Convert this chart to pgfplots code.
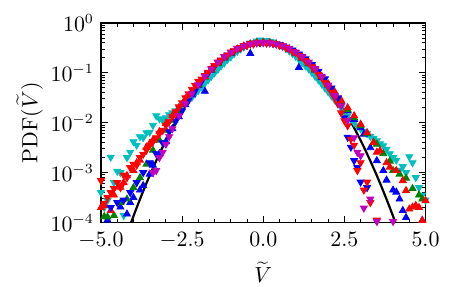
\documentclass[border=0pt]{standalone}
\usepackage{pgfplots}
\pgfplotsset{compat=1.18}
\definecolor{mb}{rgb}{0,0,1}
\definecolor{mg}{rgb}{0,0.5,0}
\definecolor{mr}{rgb}{1,0,0}
\definecolor{mc}{rgb}{0,0.75,0.75}
\definecolor{mm}{rgb}{0.75,0,0.75}
\begin{document}
\begin{tikzpicture}
\begin{axis}[name=ax,
  scale only axis, width=162.25pt, height=99.75pt,
  xmin=-5, xmax=5, ymin=1e-4, ymax=1, ymode=log,
  clip=true,
  xtick={-5,-2.5,0,2.5,5},
  xticklabels={$-5.0$,$-2.5$,$0.0$,$2.5$,$5.0$},
  minor x tick num=4,
  tick align=inside, tick pos=both,
  xticklabel pos=lower, yticklabel pos=left,
  major tick length=3.5pt, minor tick length=2pt,
  every major tick/.style={line width=0.6pt, black},
  every minor tick/.style={line width=0.5pt, black},
  axis line style={line width=0.8pt},
  ytick={1e-4,1e-3,1e-2,1e-1,1},
  xlabel={$\widetilde{V}$},
  ylabel={$\mathrm{PDF}(\widetilde{V})$},
  xlabel style={at={(axis description cs:0.5,-0.248)}, anchor=center, inner sep=0pt},
  ylabel style={at={(axis description cs:-0.22,0.5)}, anchor=center},
  xticklabel style={yshift=-1.2pt},
  tick label style={font=\fontsize{10.5}{12}\selectfont},
  label style={font=\fontsize{10.5}{12}\selectfont},
]
% cyan, down triangles
\addplot[only marks, mark=triangle*, mark size=2pt, color=mc, mark options={rotate=180, fill=mc, draw=mc}] coordinates {
(-5.0,3.98e-4)(-4.9,2.00e-4)(-4.8,2.75e-4)(-4.7,2.04e-3)(-4.6,6.31e-4)(-4.5,1.07e-3)(-4.4,1.00e-3)(-4.3,1.38e-4)(-4.2,2.00e-3)(-4.1,2.57e-3)
(-4.0,4.17e-3)(-3.9,3.55e-3)(-3.8,5.25e-3)(-3.7,5.01e-3)(-3.6,6.31e-3)(-3.5,6.46e-3)(-3.4,8.91e-3)(-3.3,1.38e-2)(-3.2,1.20e-2)(-3.1,1.12e-2)
(-3.0,1.26e-2)(-2.9,1.45e-2)(-2.8,1.58e-2)(-2.7,1.74e-2)(-2.6,2.00e-2)(-2.5,2.19e-2)(-2.4,2.51e-2)(-2.3,2.82e-2)(-2.2,3.24e-2)(-2.1,3.80e-2)
(-2.0,0.0447)(-1.9,0.0525)(-1.8,0.0617)(-1.7,0.0724)(-1.6,0.0851)(-1.5,0.100)(-1.4,0.117)(-1.3,0.138)(-1.2,0.158)(-1.1,0.186)
(-1.0,0.209)(-0.9,0.240)(-0.8,0.269)(-0.7,0.302)(-0.6,0.331)(-0.5,0.355)(-0.4,0.398)(-0.3,0.407)(-0.2,0.437)(-0.1,0.457)
(0.0,0.437)(0.1,0.447)(0.2,0.427)(0.3,0.417)(0.4,0.389)(0.5,0.363)(0.6,0.339)(0.7,0.309)(0.8,0.275)(0.9,0.245)
(1.0,0.214)(1.1,0.186)(1.2,0.162)(1.3,0.138)(1.4,0.120)(1.5,0.102)(1.6,0.0851)(1.7,0.0724)(1.8,0.0603)(1.9,0.0501)
(2.0,0.0417)(2.1,0.0347)(2.2,0.0288)(2.3,0.0240)(2.4,0.0200)(2.5,0.0166)(2.6,0.0138)(2.7,0.0117)(2.8,0.0100)(2.9,8.71e-3)
(3.0,7.59e-3)(3.1,6.76e-3)(3.2,6.03e-3)(3.3,5.37e-3)(3.4,4.90e-3)(3.5,4.37e-3)(3.6,3.80e-3)(3.7,3.47e-3)(3.8,2.95e-3)(3.9,2.40e-3)
(4.0,2.00e-3)(4.1,1.78e-3)(4.2,1.12e-3)(4.3,1.32e-3)(4.4,1.00e-3)(4.5,2.09e-3)(4.6,1.58e-3)(4.7,7.94e-4)(4.8,5.01e-4)(4.9,3.55e-4)(5.0,2.82e-4)
};
% blue, up triangles
\addplot[only marks, mark=triangle*, mark size=2pt, color=mb, mark options={fill=mb, draw=mb}] coordinates {
(-4.8,1.12e-4)(-4.4,2.04e-4)(-4.2,1.48e-4)(-4.1,2.51e-4)(-4.0,3.16e-4)(-3.8,4.47e-4)(-3.7,5.50e-4)(-3.5,9.33e-4)(-3.4,1.41e-3)(-3.2,2.40e-3)
(-3.0,4.17e-3)(-2.8,7.59e-3)(-2.6,1.32e-2)(-2.4,2.29e-2)(-2.2,3.63e-2)(-2.0,5.62e-2)(-1.8,0.0427)(-1.6,0.113)(-1.4,0.152)(-1.2,0.198)
(-1.0,0.246)(-0.8,0.293)(-0.6,0.337)(-0.4,0.245)(-0.2,0.392)(0.0,0.400)(0.2,0.392)(0.4,0.368)(0.6,0.336)(0.8,0.292)
(1.0,0.245)(1.1,0.129)(1.2,0.197)(1.4,0.152)(1.6,0.114)(1.8,0.081)(2.0,0.057)(2.2,0.0398)(2.4,0.0263)(2.6,0.0174)
(2.8,0.0117)(3.0,7.94e-3)(3.1,5.89e-3)(3.3,3.16e-3)(3.5,1.74e-3)(3.7,1.10e-3)(3.8,7.08e-4)(4.0,4.47e-4)(4.1,4.07e-4)(4.2,2.95e-4)
(4.3,1.74e-4)(4.4,1.26e-4)(4.9,1.10e-4)
};
% green, up triangles
\addplot[only marks, mark=triangle*, mark size=2pt, color=mg, mark options={fill=mg, draw=mg}] coordinates {
(-4.9,1.32e-4)(-4.8,1.29e-4)(-4.6,1.38e-4)(-4.4,2.51e-4)(-4.2,2.95e-4)(-4.0,5.01e-4)(-3.8,7.94e-4)(-3.6,1.48e-3)(-3.4,2.82e-3)(-3.2,4.47e-3)
(-3.0,7.08e-3)(-2.8,1.12e-2)(-2.6,1.74e-2)(-2.4,2.63e-2)(-2.2,3.98e-2)(-2.0,5.75e-2)(-1.8,0.082)(-1.6,0.115)(-1.4,0.155)(-1.2,0.200)
(-1.0,0.248)(-0.8,0.295)(-0.6,0.338)(-0.4,0.372)(-0.2,0.395)(0.0,0.402)(0.2,0.393)(0.4,0.370)(0.6,0.336)(0.8,0.294)
(1.0,0.246)(1.2,0.199)(1.4,0.154)(1.6,0.115)(1.8,0.083)(2.0,0.0589)(2.2,0.0398)(2.4,0.0269)(2.6,0.0182)(2.8,0.0126)
(3.0,8.71e-3)(3.2,6.03e-3)(3.4,4.07e-3)(3.5,3.72e-3)(3.7,2.40e-3)(3.9,1.70e-3)(4.0,1.10e-3)(4.2,9.33e-4)(4.4,7.76e-4)(4.6,4.79e-4)
(4.8,3.55e-4)(4.9,2.95e-4)
};
% red, up triangles
\addplot[only marks, mark=triangle*, mark size=2pt, color=mr, mark options={fill=mr, draw=mr}] coordinates {
(-5.0,2.00e-4)(-4.9,2.19e-4)(-4.7,1.74e-4)(-4.6,3.55e-4)(-4.4,5.13e-4)(-4.3,6.31e-4)(-4.2,8.71e-4)(-4.0,1.10e-3)(-3.9,1.58e-3)(-3.8,1.78e-3)
(-3.6,3.24e-3)(-3.5,3.80e-3)(-3.4,4.47e-3)(-3.2,6.61e-3)(-3.0,9.55e-3)(-2.8,1.38e-2)(-2.6,2.00e-2)(-2.4,3.02e-2)(-2.2,4.17e-2)(-2.0,6.03e-2)
(-1.8,0.085)(-1.6,0.119)(-1.4,0.160)(-1.2,0.205)(-1.0,0.252)(-0.8,0.300)(-0.6,0.345)(-0.4,0.380)(-0.2,0.400)(0.0,0.405)
(0.2,0.398)(0.4,0.375)(0.6,0.340)(0.8,0.298)(1.0,0.250)(1.2,0.203)(1.4,0.158)(1.6,0.118)(1.8,0.084)(2.0,0.0600)
(2.2,0.0417)(2.4,0.0282)(2.6,0.0200)(2.8,0.0138)(3.0,9.33e-3)(3.2,6.31e-3)(3.4,3.98e-3)(3.5,2.57e-3)(3.6,2.75e-3)(3.8,1.58e-3)
(3.9,1.29e-3)(4.1,1.10e-3)(4.3,6.92e-4)(4.4,4.37e-4)(4.5,1.86e-4)(4.6,2.04e-4)(4.7,2.19e-4)(4.8,2.00e-4)(4.9,1.10e-4)(5.0,2.75e-4)
};
% blue, down triangles
\addplot[only marks, mark=triangle*, mark size=2pt, color=mb, mark options={rotate=180, fill=mb, draw=mb}] coordinates {
(-4.7,2.00e-4)(-4.5,2.51e-4)(-4.3,2.82e-4)(-4.1,3.98e-4)(-3.9,6.31e-4)(-3.7,1.00e-3)(-3.5,1.58e-3)(-3.3,2.40e-3)(-3.1,3.98e-3)(-2.9,6.61e-3)
(-2.7,1.07e-2)(-2.5,1.74e-2)(-2.3,2.82e-2)(-2.1,4.37e-2)(-1.9,0.0680)(-1.7,0.0990)(-1.5,0.137)(-1.3,0.180)(-1.1,0.227)(-0.9,0.275)
(-0.7,0.320)(-0.5,0.358)(-0.3,0.386)(-0.1,0.400)(0.1,0.402)(0.3,0.390)(0.5,0.365)(0.7,0.330)(0.9,0.288)(1.1,0.240)
(1.3,0.192)(1.5,0.147)(1.7,0.108)(1.9,0.0760)(2.1,0.0500)(2.3,0.0316)(2.5,0.0126)(2.6,5.13e-3)(2.7,3.24e-3)(2.8,1.74e-3)
(2.9,1.26e-3)(3.0,6.46e-4)(3.2,5.01e-4)
};
% red, down triangles
\addplot[only marks, mark=triangle*, mark size=2pt, color=mr, mark options={rotate=180, fill=mr, draw=mr}] coordinates {
(-5.0,6.92e-4)(-4.9,2.40e-4)(-4.8,3.16e-4)(-4.7,3.98e-4)(-4.6,4.79e-4)(-4.5,6.31e-4)(-4.4,5.01e-4)(-4.3,8.91e-4)(-4.2,7.94e-4)(-4.1,1.26e-3)
(-4.0,1.48e-3)(-3.9,1.41e-3)(-3.8,2.00e-3)(-3.7,2.34e-3)(-3.6,2.82e-3)(-3.5,3.55e-3)(-3.4,4.17e-3)(-3.3,5.01e-3)(-3.2,6.03e-3)(-3.1,7.08e-3)
(-3.0,8.91e-3)(-2.9,1.07e-2)(-2.8,1.32e-2)(-2.7,1.66e-2)(-2.6,2.09e-2)(-2.5,2.51e-2)(-2.4,3.16e-2)(-2.3,3.80e-2)(-2.2,4.68e-2)(-2.1,5.62e-2)
(-2.0,6.76e-2)(-1.9,0.0754)(-1.8,0.0885)(-1.7,0.103)(-1.6,0.124)(-1.5,0.140)(-1.4,0.165)(-1.3,0.181)(-1.2,0.213)(-1.1,0.229)
(-1.0,0.261)(-0.9,0.279)(-0.8,0.310)(-0.7,0.321)(-0.6,0.353)(-0.5,0.359)(-0.4,0.386)(-0.3,0.381)(-0.2,0.407)(-0.1,0.405)
(0.0,0.411)(0.1,0.397)(0.2,0.403)(0.3,0.389)(0.4,0.383)(0.5,0.359)(0.6,0.350)(0.7,0.321)(0.8,0.305)(0.9,0.271)
(1.0,0.257)(1.1,0.225)(1.2,0.206)(1.3,0.176)(1.4,0.158)(1.5,0.133)(1.6,0.115)(1.7,0.094)(1.8,0.0806)(1.9,0.0643)
(2.0,0.0520)(2.1,0.0410)(2.2,0.0316)(2.3,0.0240)(2.4,0.0158)(2.5,0.0110)(2.6,8.71e-3)(2.7,4.68e-3)(2.8,3.55e-3)(2.9,1.10e-3)
(3.0,1.58e-3)(3.1,4.47e-4)(3.2,6.46e-4)(3.3,2.51e-4)(3.5,1.12e-4)
};
% magenta, down triangles
\addplot[only marks, mark=triangle*, mark size=2pt, color=mm, mark options={rotate=180, fill=mm, draw=mm}] coordinates {
(-3.4,1.00e-3)(-3.3,1.10e-3)(-3.2,2.00e-3)(-3.1,2.57e-3)(-3.0,3.72e-3)(-2.9,5.25e-3)(-2.8,7.59e-3)(-2.6,1.38e-2)(-2.4,2.40e-2)(-2.2,3.80e-2)
(-2.0,5.75e-2)(-1.8,0.0850)(-1.6,0.120)(-1.4,0.163)(-1.2,0.210)(-1.0,0.260)(-0.8,0.305)(-0.6,0.345)(-0.4,0.378)(-0.2,0.398)
(0.0,0.405)(0.2,0.398)(0.4,0.380)(0.6,0.350)(0.8,0.310)(1.0,0.263)(1.2,0.213)(1.4,0.165)(1.6,0.122)(1.8,0.0860)
(2.0,0.0570)(2.2,0.0355)(2.4,0.0219)(2.6,0.0112)(2.8,5.01e-3)(2.9,2.57e-3)(3.0,2.19e-3)(3.1,1.95e-4)(3.3,2.95e-4)(3.5,1.05e-4)(4.0,1.05e-4)
};
% Gaussian reference curve
\addplot[sharp plot, no marks, black, line width=1.1pt] coordinates {
(-4.2,5.89e-5)(-4.1,8.93e-5)(-4.0,1.34e-4)(-3.9,1.99e-4)(-3.8,2.92e-4)(-3.7,4.25e-4)(-3.6,6.12e-4)(-3.5,8.73e-4)(-3.4,1.23e-3)(-3.3,1.72e-3)
(-3.2,2.38e-3)(-3.1,3.27e-3)(-3.0,4.43e-3)(-2.9,5.95e-3)(-2.8,7.92e-3)(-2.7,1.04e-2)(-2.6,1.36e-2)(-2.5,1.75e-2)(-2.4,2.24e-2)(-2.3,2.83e-2)
(-2.2,3.55e-2)(-2.1,4.40e-2)(-2.0,5.40e-2)(-1.9,6.56e-2)(-1.8,7.90e-2)(-1.7,9.40e-2)(-1.6,0.1109)(-1.5,0.1295)(-1.4,0.1497)(-1.3,0.1714)
(-1.2,0.1942)(-1.1,0.2179)(-1.0,0.2420)(-0.9,0.2661)(-0.8,0.2897)(-0.7,0.3123)(-0.6,0.3332)(-0.5,0.3521)(-0.4,0.3683)(-0.3,0.3814)
(-0.2,0.3910)(-0.1,0.3970)(0.0,0.3989)(0.1,0.3970)(0.2,0.3910)(0.3,0.3814)(0.4,0.3683)(0.5,0.3521)(0.6,0.3332)(0.7,0.3123)
(0.8,0.2897)(0.9,0.2661)(1.0,0.2420)(1.1,0.2179)(1.2,0.1942)(1.3,0.1714)(1.4,0.1497)(1.5,0.1295)(1.6,0.1109)(1.7,9.40e-2)
(1.8,7.90e-2)(1.9,6.56e-2)(2.0,5.40e-2)(2.1,4.40e-2)(2.2,3.55e-2)(2.3,2.83e-2)(2.4,2.24e-2)(2.5,1.75e-2)(2.6,1.36e-2)(2.7,1.04e-2)
(2.8,7.92e-3)(2.9,5.95e-3)(3.0,4.43e-3)(3.1,3.27e-3)(3.2,2.38e-3)(3.3,1.72e-3)(3.4,1.23e-3)(3.5,8.73e-4)(3.6,6.12e-4)(3.7,4.25e-4)
(3.8,2.92e-4)(3.9,1.99e-4)(4.0,1.34e-4)(4.1,8.93e-5)(4.2,5.89e-5)
};
\end{axis}
\path ([xshift=-50.5pt,yshift=-31.75pt]ax.south west) rectangle ([xshift=18.25pt,yshift=11.5pt]ax.north east);
\end{tikzpicture}
\end{document}
